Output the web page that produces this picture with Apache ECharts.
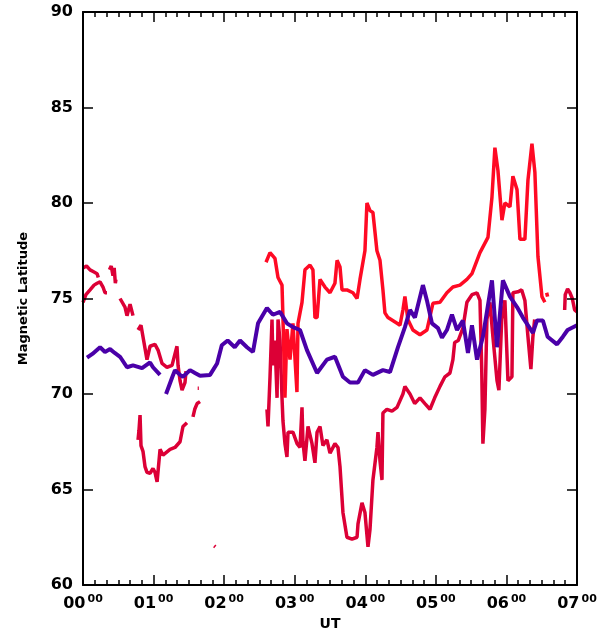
<!DOCTYPE html>
<html>
<head>
<meta charset="utf-8">
<script src="https://cdn.jsdelivr.net/npm/echarts@6/dist/echarts.min.js"></script>
<style>
html,body{margin:0;padding:0;background:#fff;}
#wrap{position:relative;width:608px;height:632px;}
#c,#f{position:absolute;left:0;top:0;width:608px;height:632px;}
#f{pointer-events:none;}
</style>
</head>
<body>
<div id="wrap"><div id="c"></div><div id="f"></div></div>
<script>
// x values: minutes after 00:00 UT; y values: magnetic latitude (deg)
const hourTicks = ['00','01','02','03','04','05','06','07'];
const latTicks = [60, 65, 70, 75, 80, 85, 90];

const purpleSegments = [
  [[3.4,71.9],[8,72.1],[14.5,72.45],[18.7,72.2],[23,72.35],[27,72.15],[31.5,71.95],[37.4,71.4],[42.5,71.5],[50.2,71.35],[57,71.65],[59.5,71.4],[65.5,71.0]],
  [[70.6,70.0],[75.7,70.85],[78.2,71.25],[82.5,71.0],[85,70.9],[91,71.25],[95.2,71.1],[99.5,70.95],[108,71.0],[114,71.6],[118,72.55],[123,72.8],[129,72.45],[133.5,72.8],[139.4,72.45],[144.5,72.2],[148.8,73.7],[156.4,74.5],[161.5,74.15],[167.5,74.3],[173.4,73.7],[178.5,73.5],[184.5,73.35],[190.4,72.3],[199,71.1],[207.4,71.8],[214.2,71.95],[221,70.9],[227,70.6],[233.8,70.6],[239.7,71.25],[246.5,71.0],[255,71.25],[261,71.15],[267.8,72.45],[273.7,73.5],[278,74.4],[282.2,74.0],[289,75.7],[292.4,74.9],[296.7,73.7],[301.8,73.45],[305.2,72.95],[309.4,73.35],[313.7,74.15],[318,73.35],[323,73.85],[327.3,72.15],[330.7,73.6],[335,71.8],[340,73.0],[347.7,75.95],[352,72.45],[357,75.95],[363,75.1],[369,74.55],[374,74.0],[382.5,73.2],[386,73.85],[391,73.85],[395,73.0],[403,72.6],[408,73.0],[412,73.35],[420,73.6]]
];

const polewardSegments = [
  [[155.6,76.9],[159,77.4],[163.2,77.1],[165.8,76.1],[169.2,75.7],[170,74.0],[171.7,69.8],[173.4,73.4],[176,71.8],[178.5,73.7],[181.9,70.1],[182.8,73.7],[186.2,74.8],[188.7,76.5],[193,76.75],[195.5,76.5],[197.2,74.0],[199,74.0],[201.5,76.0],[205.7,75.6],[210,75.3],[214.2,75.8],[216,77.0],[218.5,76.65],[220.2,75.45],[224.4,75.45],[229.5,75.3],[233,75.0],[235.5,76.0],[239.7,77.5],[241.4,80.0],[244,79.6],[246.5,79.5],[249.9,77.5],[252.5,77.0],[255,75.45],[256.7,74.25],[259.3,74.0],[267,73.7],[269.5,73.6],[272,74.4],[273.7,75.1],[276.2,73.9],[280.5,73.35],[286.5,73.1],[292.4,73.35],[297.5,74.75],[303.5,74.8],[309.4,75.3],[314.5,75.6],[320.5,75.7],[326.4,76.0],[330.7,76.3],[337.5,77.4],[344.3,78.2],[347.7,80.3],[350.2,82.9],[352.8,81.7],[356.2,79.1],[358.7,80.0],[363,79.8],[365.5,81.4],[369,80.7],[371.5,78.1],[375.7,78.1],[378.3,81.2],[381.7,83.1],[384.2,81.6],[386.8,77.2],[390.2,75.1],[392.7,74.8]],
  [[394.2,75.3],[395,75.1]]
];

const equatorwardSegments = [
  [[0,76.6],[3,76.7],[6,76.5],[9,76.4],[12,76.3],[13,76.1]],
  [[0,74.8],[2.5,75.2],[6,75.45],[9.4,75.7],[12,75.8],[14.5,75.87],[17,75.6],[18.7,75.3],[20.4,75.3]],
  [[22.5,76.5],[24,76.7],[25.5,76.2],[26.5,76.6],[27.5,75.8],[28,76.0]],
  [[31.5,75.0],[35.7,74.55],[37.4,74.1],[40,74.7],[41.7,74.3],[42.5,74.1]],
  [[46.8,73.35],[49.3,73.6],[51,73.0],[54.4,71.8],[57,72.5],[61.2,72.6],[63.8,72.3],[67.2,71.6],[71.4,71.4],[75.7,71.5],[78.2,72.1],[79.9,72.5],[80.8,71.5],[82.5,70.7],[84.2,70.2],[86.7,70.6],[87.6,71.2]],
  [[46.8,67.6],[47.6,68.1],[48.5,68.9],[49.3,67.3],[51,67.0],[52.7,66.2],[54.4,65.9],[57,65.85],[59.5,66.1],[61.2,65.9],[63,65.4],[65.5,67.1],[68,66.8],[69.7,66.9],[74,67.1],[78.2,67.2],[82.5,67.5],[85,68.3],[88.4,68.5]],
  [[93.5,68.8],[95,69.2],[97,69.5],[99.5,69.6]],
  [[97.5,70.3],[98.5,70.3]],
  [[111.5,62.05],[112.5,62.0]],
  [[156.4,69.2],[157.3,68.3],[159,70.9],[160.7,73.9],[161.5,71.5],[163.2,72.8],[165,69.8],[165.8,73.9],[167.5,72.8],[169.2,69.8],[170,68.6],[171.7,67.4],[173.4,66.7],[174.3,68.0],[176,68.1],[178.5,68.0],[182,67.4],[184.5,67.2],[186.2,69.3],[187,67.5],[188.7,66.5],[191.3,68.3],[194.7,67.4],[197.2,66.4],[199,68.0],[201.5,68.3],[204,67.3],[207.4,67.6],[210,66.9],[214.2,67.4],[216.8,67.2],[218.5,66.2],[221,63.8],[224.4,62.5],[228.7,62.4],[233,62.5],[233.8,63.2],[237.2,64.3],[239.7,63.8],[242.3,62.0],[244,62.9],[246.5,65.5],[249.9,67.2],[250.8,68.0],[252.5,66.5],[254.2,65.5],[255,69.0],[258.4,69.2],[262.7,69.1],[267,69.3],[272,70.0],[273.7,70.4],[278,70.0],[282,69.5],[286.5,69.8],[290.7,69.5],[295,69.2],[299,69.8],[303.5,70.4],[307.7,70.9],[312,71.1],[314.5,71.8],[316,72.7],[319,72.8],[323,73.45],[326.4,74.8],[330.7,75.2],[335,75.3],[337.5,74.9],[339,71.3],[340,67.4],[341.7,69.2],[343.4,73.9],[346,74.8],[348.5,73.0],[352,70.7],[353.6,70.2],[356,73.9],[358.7,74.9],[361.3,70.7],[364.7,70.9],[365.5,75.3],[369.8,75.35],[373,75.45],[375.7,74.9],[378.3,73.0],[380.8,71.3],[382.5,73.0],[384,73.9]],
  [[409.5,74.4],[410,75.2],[412,75.5],[414,75.3],[416,75.0],[418,74.4],[420,74.3]]
];

const COL_EQ = '#dc0036', COL_PO = '#ff0a24', COL_PU = '#4a00a8';
const FONT = 'DejaVu Sans';
const GRID = { left: 83, right: 31, top: 12, bottom: 47, outerBoundsMode: 'none' };

function lineSeries(segs, color, w) {
  return segs.map(s => ({
    type: 'line', data: s, showSymbol: false, animation: false,
    lineStyle: { color: color, width: w }
  }));
}

// ---- layer 1: the data lines, on hidden axes with the same grid and ranges
const hiddenX = { type: 'value', min: 0, max: 420, interval: 60, show: false };
const hiddenY = { type: 'value', min: latTicks[0], max: latTicks[latTicks.length - 1], interval: 5, show: false };
const dataChart = echarts.init(document.getElementById('c'));
dataChart.setOption({
  backgroundColor: '#fff',
  animation: false,
  grid: GRID,
  xAxis: hiddenX, yAxis: hiddenY,
  series: [].concat(
    lineSeries(equatorwardSegments, COL_EQ, 3.5),
    lineSeries(polewardSegments, COL_PO, 3.5),
    lineSeries(purpleSegments, COL_PU, 4)
  )
});

// ---- layer 2: the frame, ticks, tick labels and axis names
function makeAxis(kind, pos, extra) {
  const o = {
    type: 'value', position: pos,
    axisLine: { show: true, onZero: false, lineStyle: { color: '#000', width: 2 } },
    axisTick: { show: true, inside: true, length: 10, lineStyle: { color: '#000', width: 1.5 } },
    splitLine: { show: false }
  };
  if (kind === 'x') {
    o.min = 0; o.max = 420; o.interval = 60;
    o.minorTick = { show: true, splitNumber: 6, length: 5, lineStyle: { color: '#000', width: 1.5 } };
  } else {
    o.min = latTicks[0]; o.max = latTicks[latTicks.length - 1]; o.interval = 5;
  }
  return Object.assign(o, extra || {});
}

function frameOption(level) {
  let xLabel;
  if (level <= 1) {
    const h = { fontFamily: FONT, fontWeight: 'bold', fontSize: 16, color: '#000' };
    const m = { fontFamily: FONT, fontWeight: 'bold', fontSize: 11, color: '#000', verticalAlign: 'top' };
    if (level === 0) { h.verticalAlign = 'bottom'; h.lineHeight = 18; m.lineHeight = 18; m.padding = [0, 0, 0, 2]; }
    xLabel = { margin: 9, formatter: v => '{h|' + hourTicks[Math.round(v / 60)] + '}{m|00}', rich: { h: h, m: m } };
  } else {
    xLabel = { margin: 9, fontFamily: FONT, fontWeight: 'bold', fontSize: 15, color: '#000',
      formatter: v => hourTicks[Math.round(v / 60)] + '\u2070\u2070' };
  }
  const xName = level >= 3 ? {} : { name: 'UT', nameLocation: 'middle', nameGap: 32,
    nameTextStyle: { fontFamily: FONT, fontWeight: 'bold', fontSize: 14, color: '#000' } };
  const yName = level >= 3 ? {} : { name: 'Magnetic Latitude', nameLocation: 'middle', nameGap: 53, nameRotate: 90,
    nameTextStyle: { fontFamily: FONT, fontWeight: 'bold', fontSize: 13, color: '#000' } };
  return {
    animation: false,
    grid: GRID,
    xAxis: [
      makeAxis('x', 'bottom', Object.assign({ axisLabel: xLabel }, xName)),
      makeAxis('x', 'top', { axisLabel: { show: false } })
    ],
    yAxis: [
      makeAxis('y', 'left', Object.assign({ axisLabel: { margin: 10, fontFamily: FONT, fontWeight: 'bold',
        fontSize: level >= 1 ? 15 : 16, color: '#000' } }, yName)),
      makeAxis('y', 'right', { axisLabel: { show: false } })
    ],
    series: [{ type: 'line', data: [], showSymbol: false }]
  };
}

const frameChart = echarts.init(document.getElementById('f'));
function shortLines(ch) {
  try {
    return ch.getZr().storage.getDisplayList(true).filter(el => el.type === 'line' && el.shape &&
      Math.hypot(el.shape.x2 - el.shape.x1, el.shape.y2 - el.shape.y1) < 12);
  } catch (e) { return []; }
}
let ticks = [];
for (let level = 0; level <= 3; level++) {
  frameChart.clear();
  frameChart.setOption(frameOption(level), true);
  ticks = shortLines(frameChart);
  if (ticks.length > 40) break;
}
// make sure the axis tick marks that were built are painted
ticks.forEach(el => {
  el.ignore = false; el.invisible = false;
  if (el.style) { el.style.opacity = 1; el.style.stroke = '#000'; if (!el.style.lineWidth) el.style.lineWidth = 1.5; }
  if (el.markRedraw) el.markRedraw();
});
frameChart.getZr().refresh();
</script>
</body>
</html>
